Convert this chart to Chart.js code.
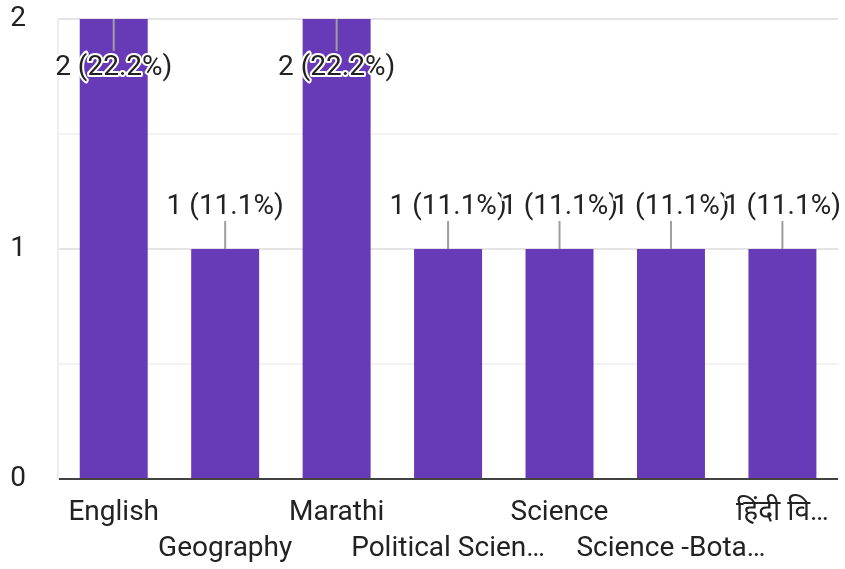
<!DOCTYPE html>
<html>
<head>
<meta charset="utf-8">
<script src="https://cdn.jsdelivr.net/npm/chart.js@4"></script>
<style>
  html, body { margin: 0; padding: 0; background: #fff; }
  #wrap { width: 845px; height: 569px; }
</style>
</head>
<body>
<div id="wrap"><canvas id="myChart" width="845" height="569"></canvas></div>
<script>
const categories = ['English', 'Geography', 'Marathi', 'Political Scien…', 'Science', 'Science -Bota…', 'हिंदी वि…'];
const counts = [2, 1, 2, 1, 1, 1, 1];
const percents = ['22.2%', '11.1%', '22.2%', '11.1%', '11.1%', '11.1%', '11.1%'];
const yTicks = [0, 1, 2];

const fontFamily = "Roboto, 'Noto Sans', sans-serif";

// value labels with leader lines, like google forms
const valueLabels = {
  id: 'valueLabels',
  afterDatasetsDraw(chart) {
    const {ctx, scales: {x, y}} = chart;
    const top = y.getPixelForValue(y.max);
    ctx.save();
    ctx.font = '28px ' + fontFamily;
    ctx.textAlign = 'center';
    ctx.textBaseline = 'middle';
    counts.forEach((v, i) => {
      const cx = x.getPixelForValue(i);
      const py = y.getPixelForValue(v);
      let lineEnd, ly;
      if (py - 45 < top) {
        lineEnd = py + 32; ly = py + 49;
      } else {
        lineEnd = py - 28; ly = py - 42;
      }
      ctx.strokeStyle = '#9e9e9e';
      ctx.lineWidth = 2;
      ctx.beginPath();
      ctx.moveTo(cx, py);
      ctx.lineTo(cx, lineEnd);
      ctx.stroke();
      const txt = v + ' (' + percents[i] + ')';
      ctx.strokeStyle = '#fff';
      ctx.lineWidth = 4;
      ctx.lineJoin = 'round';
      ctx.strokeText(txt, cx, ly);
      ctx.fillStyle = '#222';
      ctx.fillText(txt, cx, ly);
    });
    ctx.restore();
  }
};

const ctx = document.getElementById('myChart');
new Chart(ctx, {
  type: 'bar',
  data: {
    labels: categories,
    datasets: [{
      data: counts,
      backgroundColor: '#673ab7',
      borderWidth: 0,
      categoryPercentage: 1,
      barPercentage: 0.61
    }]
  },
  options: {
    responsive: false,
    animation: false,
    layout: { padding: { top: 19, right: 3, left: 0, bottom: 0 } },
    plugins: { legend: { display: false }, tooltip: { enabled: false } },
    scales: {
      x: {
        grid: { display: false, drawTicks: false },
        border: { display: false },
        afterFit: s => { s.height = 90; },
        ticks: {
          autoSkip: false,
          maxRotation: 0,
          padding: 16,
          color: '#222',
          font: { family: fontFamily, size: 28, lineHeight: 1.29 },
          callback: (val, i) => i % 2 === 0 ? categories[i] : ['', categories[i]]
        }
      },
      y: {
        min: 0,
        max: 2,
        afterFit: s => { s.width = 58; s.paddingTop = 0; s.paddingBottom = 0; },
        afterBuildTicks: s => {
          const t = [];
          for (let v = 0; v <= 2; v += 0.5) t.push({ value: v });
          s.ticks = t;
        },
        grid: {
          drawTicks: false,
          color: c => c.tick.value === 0 ? '#424242' : (yTicks.includes(c.tick.value) ? '#e4e4e4' : '#f3f3f3'),
          lineWidth: 2
        },
        border: { display: true, color: '#eeeeee', width: 2 },
        ticks: {
          padding: 32,
          color: '#222',
          font: { family: fontFamily, size: 28 },
          callback: v => yTicks.includes(v) ? String(v) : ''
        }
      }
    }
  },
  plugins: [valueLabels]
});
</script>
</body>
</html>
